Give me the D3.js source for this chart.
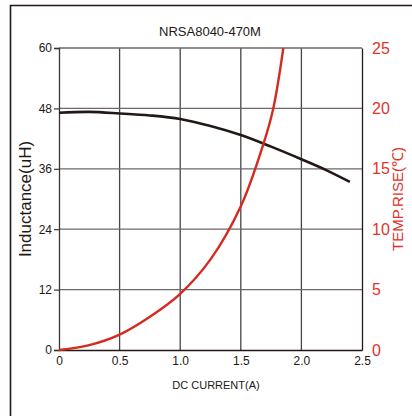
<!DOCTYPE html>
<html>
<head>
<meta charset="utf-8">
<script src="https://cdn.jsdelivr.net/npm/d3@7"></script>
<style>
  body { margin: 0; background: #fff; }
  text { font-family: Arial, "Liberation Sans", sans-serif; }
</style>
</head>
<body>
<div id="chart"></div>
<script>
// Data
var current = [0, 0.25, 0.5, 0.75, 1.0, 1.25, 1.5, 1.75, 2.0, 2.2, 2.4];
var inductance = [47.15, 47.3, 47.0, 46.6, 45.9, 44.5, 42.7, 40.4, 37.9, 35.8, 33.4];

var tempCurrent = [0, 0.25, 0.5, 0.75, 1.0, 1.25, 1.5, 1.687, 1.768, 1.851];
var tempRise = [0, 0.4, 1.27, 2.75, 4.65, 7.5, 11.9, 17.07, 20, 25];

var xTicks = [0, 0.5, 1.0, 1.5, 2.0, 2.5];
var xTickLabels = ["0", "0.5", "1.0", "1.5", "2.0", "2.5"];
var leftTicks = [0, 12, 24, 36, 48, 60];
var rightTicks = [0, 5, 10, 15, 20, 25];

var svgWidth = 412, svgHeight = 416;
var margin = { top: 48, right: 50, bottom: 66, left: 59 };
var width = 362 - margin.left;
var height = 350 - margin.top;

var svg = d3.select("#chart").append("svg")
    .attr("width", svgWidth)
    .attr("height", svgHeight);

// outer frame
svg.append("path")
    .attr("d", "M10.5,416 L10.5,5.5 L412,5.5")
    .attr("fill", "none")
    .attr("stroke", "#231815")
    .attr("stroke-width", 1.6);

var g = svg.append("g")
    .attr("transform", `translate(${margin.left}, ${margin.top})`);

var x = d3.scaleLinear().domain([0, 2.5]).range([0, width]);
var yL = d3.scaleLinear().domain([0, 60]).range([height, 0]);
var yR = d3.scaleLinear().domain([0, 25]).range([height, 0]);

// grid
g.selectAll(".vgrid").data(xTicks.slice(1, -1)).enter().append("line")
    .attr("x1", d => x(d)).attr("x2", d => x(d))
    .attr("y1", 0).attr("y2", height)
    .attr("stroke", "#4a4444").attr("stroke-width", 1.3);
g.selectAll(".hgrid").data(leftTicks.slice(1, -1)).enter().append("line")
    .attr("x1", 0).attr("x2", width)
    .attr("y1", d => yL(d)).attr("y2", d => yL(d))
    .attr("stroke", "#6e6969").attr("stroke-width", 1.3);

// top border
g.append("line").attr("x1", 0).attr("x2", width).attr("y1", 0).attr("y2", 0)
    .attr("stroke", "#6e6969").attr("stroke-width", 1.3);

// left axis
var leftAxis = d3.axisLeft(yL).tickValues(leftTicks).tickSize(5).tickPadding(2);
var gl = g.append("g").call(leftAxis);
gl.select(".domain").attr("stroke", "#3a3535").attr("stroke-width", 1.3);
gl.selectAll(".tick line").attr("stroke", "#3a3535").attr("stroke-width", 1.2);
gl.selectAll("text").attr("font-size", 12).attr("fill", "#231815");

// right axis
var rightAxis = d3.axisRight(yR).tickValues(rightTicks).tickSize(0).tickPadding(10);
var gr = g.append("g").attr("transform", `translate(${width},0)`).call(rightAxis);
gr.select(".domain").attr("stroke", "#231815").attr("stroke-width", 1.3);
gr.selectAll("text").attr("font-size", 16).attr("fill", "#e0332a");

// bottom axis
var bottomAxis = d3.axisBottom(x).tickValues(xTicks).tickSize(0).tickPadding(6)
    .tickFormat((d, i) => xTickLabels[i]);
var gb = g.append("g").attr("transform", `translate(0,${height})`).call(bottomAxis);
gb.select(".domain").attr("stroke", "#231815").attr("stroke-width", 1.5);
gb.selectAll("text").attr("font-size", 12).attr("fill", "#231815");

// curves
var indLine = d3.line()
    .x((d, i) => x(current[i]))
    .y(d => yL(d))
    .curve(d3.curveCatmullRom.alpha(0.5));
g.append("path").datum(inductance)
    .attr("d", indLine)
    .attr("fill", "none")
    .attr("stroke", "#231815")
    .attr("stroke-width", 2.6);

var tempLine = d3.line()
    .x((d, i) => x(tempCurrent[i]))
    .y(d => yR(d))
    .curve(d3.curveCatmullRom.alpha(0.5));
g.append("path").datum(tempRise)
    .attr("d", tempLine)
    .attr("fill", "none")
    .attr("stroke", "#d42a20")
    .attr("stroke-width", 2.4);

// labels
svg.append("text")
    .attr("x", 210).attr("y", 36)
    .attr("text-anchor", "middle")
    .attr("font-size", 13)
    .attr("fill", "#231815")
    .text("NRSA8040-470M");

svg.append("text")
    .attr("transform", "translate(31,199) rotate(-90)")
    .attr("text-anchor", "middle")
    .attr("font-size", 17)
    .attr("fill", "#231815")
    .text("Inductance(uH)");

svg.append("text")
    .attr("transform", "translate(403,199) rotate(-90)")
    .attr("text-anchor", "middle")
    .attr("font-size", 15)
    .attr("fill", "#e0332a")
    .text("TEMP.RISE(℃)");

svg.append("text")
    .attr("x", 216).attr("y", 389)
    .attr("text-anchor", "middle")
    .attr("font-size", 11)
    .attr("fill", "#231815")
    .text("DC CURRENT(A)");
</script>
</body>
</html>
